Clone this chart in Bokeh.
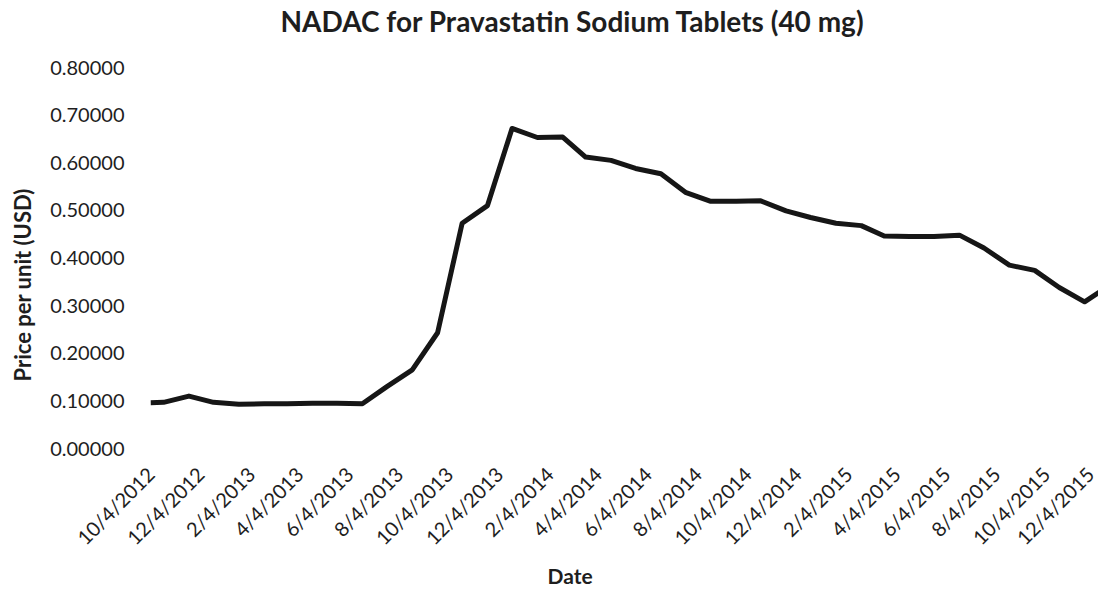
from math import pi
import pandas as pd
from bokeh.plotting import figure
from bokeh.models import Range1d, FixedTicker, PrintfTickFormatter, Title, ColumnDataSource, LinearAxis
from bokeh.embed import file_html
from bokeh.resources import INLINE

# ---- data ----
dates = [
    "2012-10-04", "2012-10-20", "2012-11-20", "2012-12-20",
    "2013-01-20", "2013-02-20", "2013-03-20", "2013-04-20", "2013-05-20", "2013-06-20",
    "2013-07-20", "2013-08-20", "2013-09-20", "2013-10-20", "2013-11-20", "2013-12-20",
    "2014-01-20", "2014-02-20", "2014-03-20", "2014-04-20", "2014-05-20", "2014-06-20",
    "2014-07-20", "2014-08-20", "2014-09-20", "2014-10-20", "2014-11-20", "2014-12-20",
    "2015-01-20", "2015-02-20", "2015-03-20", "2015-04-20", "2015-05-20", "2015-06-20",
    "2015-07-20", "2015-08-20", "2015-09-20", "2015-10-20", "2015-11-20", "2015-12-20",
]
prices = [
    0.096, 0.097, 0.110, 0.097,
    0.093, 0.094, 0.094, 0.095, 0.095, 0.094,
    0.130, 0.165, 0.243, 0.473, 0.510, 0.672,
    0.653, 0.654, 0.612, 0.605, 0.588, 0.577,
    0.538, 0.519, 0.519, 0.520, 0.499, 0.485,
    0.473, 0.468, 0.446, 0.445, 0.445, 0.448,
    0.421, 0.385, 0.374, 0.338, 0.308, 0.342,
]
tick_labels = [
    "10/4/2012", "12/4/2012", "2/4/2013", "4/4/2013", "6/4/2013", "8/4/2013",
    "10/4/2013", "12/4/2013", "2/4/2014", "4/4/2014", "6/4/2014", "8/4/2014",
    "10/4/2014", "12/4/2014", "2/4/2015", "4/4/2015", "6/4/2015", "8/4/2015",
    "10/4/2015", "12/4/2015",
]
y_ticks = [0.0, 0.1, 0.2, 0.3, 0.4, 0.5, 0.6, 0.7, 0.8]

title_text = "NADAC for Pravastatin Sodium Tablets (40 mg)"
x_title = "Date"
y_title = "Price per unit (USD)"

# ---- derived positions (days since first date) ----
start = pd.Timestamp(dates[0])
x_days = [(pd.Timestamp(d) - start).days for d in dates]
tick_pos = [(pd.to_datetime(t, format="%m/%d/%Y") - start).days for t in tick_labels]

src = ColumnDataSource(dict(x=x_days, y=prices))

FONT = "Lato"
TXT = "#1e1e1e"
X_END = 1159  # days visible in the frame (the chart is cropped on the right)

p = figure(
    width=1098, height=587, output_backend="svg", toolbar_location=None,
    x_range=Range1d(0, X_END), y_range=Range1d(0, 0.8),
    min_border_left=150, min_border_right=0, min_border_top=67, min_border_bottom=138,
)
p.outline_line_color = None
p.xgrid.visible = False
p.ygrid.visible = False
p.background_fill_color = "white"
p.border_fill_color = "white"

p.line("x", "y", source=src, line_color="#161616", line_width=5, line_join="round")

# real axes (grab them before any spacer axes are added)
xa = p.below[0]
ya = p.left[0]

# x axis
xa.ticker = FixedTicker(ticks=tick_pos)
xa.major_label_overrides = {int(t): lab for t, lab in zip(tick_pos, tick_labels)}
xa.major_label_orientation = pi / 4
xa.major_label_text_font = FONT
xa.major_label_text_font_size = "20px"
xa.major_label_text_color = TXT
xa.major_label_standoff = 22
xa.axis_line_color = None
xa.major_tick_line_color = None
xa.minor_tick_line_color = None
xa.major_tick_out = 0
xa.major_tick_in = 0

# y axis
ya.ticker = FixedTicker(ticks=y_ticks)
ya.formatter = PrintfTickFormatter(format="%.5f")
ya.major_label_text_font = FONT
ya.major_label_text_font_size = "20px"
ya.major_label_text_color = TXT
ya.major_label_standoff = 26
ya.axis_line_color = None
ya.major_tick_line_color = None
ya.minor_tick_line_color = None
ya.major_tick_out = 0
ya.major_tick_in = 0


def spacer(size):
    """An invisible axis used only to reserve space between the frame and a title."""
    return LinearAxis(ticker=FixedTicker(ticks=[0]), major_label_overrides={0: ""},
                      axis_line_color=None, major_tick_line_color=None,
                      minor_tick_line_color=None, major_tick_out=size, major_tick_in=0,
                      minor_tick_out=0, minor_tick_in=0, major_label_standoff=0)


# title
p.title.text = title_text
p.title.text_font = FONT
p.title.text_font_style = "bold"
p.title.text_font_size = "28px"
p.title.text_color = TXT
p.title.align = "left"
p.title.offset = 130
p.title.standoff = 0
p.add_layout(spacer(30), "above")

# axis titles, placed like the reference (off-centre from the frame)
xt = Title(text=x_title, align="left", offset=397, text_font=FONT, text_font_style="bold",
           text_font_size="21px", text_color=TXT, standoff=0)
p.add_layout(xt, "below")
p.add_layout(spacer(12), "left")
yt = Title(text=y_title, align="left", offset=67, text_font=FONT, text_font_style="bold",
           text_font_size="22px", text_color=TXT, standoff=0)
p.add_layout(yt, "left")

open("out.html", "w").write(file_html(p, INLINE))
